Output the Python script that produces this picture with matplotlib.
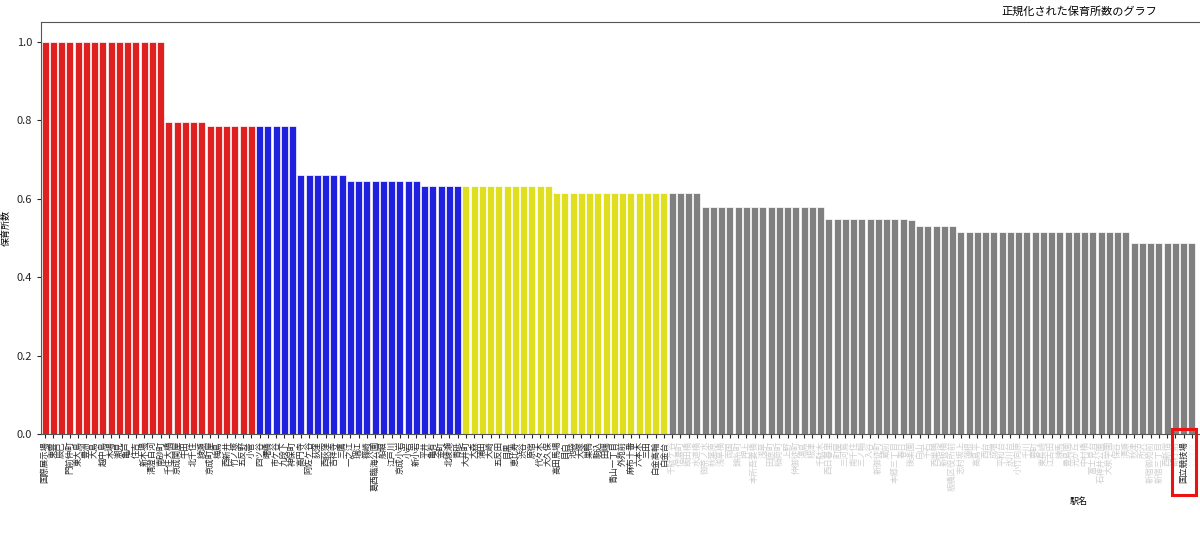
import matplotlib
matplotlib.use("Agg")
import matplotlib.pyplot as plt
from matplotlib.patches import Rectangle

plt.rcParams['font.family'] = ['Noto Sans CJK JP', 'DejaVu Sans']

# top group (red)
red_stations = ["国際展示場", "東雲", "辰巳", "門前仲町", "東大島", "豊洲", "大島", "越中島",
                "木場", "潮見", "亀戸", "住吉", "新木場", "清澄白河", "南砂町",
                "千住大橋", "京成関屋", "牛田", "北千住", "綾瀬",
                "京成町屋", "梅島", "西新井", "竹ノ塚", "五反野", "小菅"]
red_values = [1.0, 1.0, 1.0, 1.0, 1.0, 1.0, 1.0, 1.0, 1.0, 1.0, 1.0, 1.0, 1.0, 1.0, 1.0,
              0.795, 0.795, 0.795, 0.795, 0.795,
              0.784, 0.784, 0.784, 0.784, 0.784, 0.784]

# second group (blue)
blue_stations = ["四ツ谷", "曙橋", "市ケ谷", "九段下", "神保町",
                 "高円寺", "阿佐ケ谷", "荻窪", "西荻窪", "吉祥寺", "三鷹",
                 "一之江", "瑞江", "篠崎", "葛西臨海公園", "船堀", "江戸川", "京成小岩", "小岩", "新小岩",
                 "平井", "亀有", "金町", "北綾瀬", "青砥"]
blue_values = [0.784, 0.784, 0.784, 0.784, 0.784,
               0.661, 0.661, 0.661, 0.661, 0.661, 0.661,
               0.645, 0.645, 0.645, 0.645, 0.645, 0.645, 0.645, 0.645, 0.645,
               0.631, 0.631, 0.631, 0.631, 0.631]

# third group (yellow)
yellow_stations = ["大井町", "大森", "蒲田", "大崎", "五反田", "目黒", "恵比寿", "渋谷",
                   "原宿", "代々木", "大久保", "高田馬場", "目白", "池袋", "大塚", "巣鴨",
                   "駒込", "田端", "青山一丁目", "外苑前", "麻布十番", "六本木", "三田",
                   "白金高輪", "白金台"]
yellow_values = [0.631, 0.631, 0.631, 0.631, 0.631, 0.631, 0.631, 0.631, 0.631, 0.631, 0.631,
                 0.613, 0.613, 0.613, 0.613, 0.613, 0.613, 0.613, 0.613, 0.613, 0.613, 0.613,
                 0.613, 0.613, 0.613]

# the rest (gray); labels are blurred in the original except 国立競技場
gray_stations = ["千駄ケ谷", "信濃町", "飯田橋", "水道橋", "御茶ノ水", "秋葉原", "浅草橋", "両国",
                 "錦糸町", "押上", "本所吾妻橋", "浅草", "田原町", "稲荷町", "上野", "仲御徒町",
                 "湯島", "根津", "千駄木", "西日暮里", "町屋", "三河島", "南千住", "三ノ輪",
                 "入谷", "新御徒町", "蔵前", "本郷三丁目", "春日", "後楽園", "白山", "千石",
                 "西巣鴨", "新板橋", "板橋区役所前", "志村坂上", "蓮根", "高島平", "西台", "成増",
                 "平和台", "氷川台", "小竹向原", "千川", "要町", "東長崎", "江古田", "練馬",
                 "豊島園", "光が丘", "中村橋", "富士見台", "石神井公園", "大泉学園", "保谷", "清瀬",
                 "秋津", "所沢", "新宿御苑前", "新宿三丁目", "西新宿", "都庁前", "国立競技場",
                 "代々木"]
gray_values = [0.613, 0.613, 0.613, 0.613,
               0.578, 0.578, 0.578, 0.578, 0.578, 0.578, 0.578, 0.578, 0.578, 0.578,
               0.578, 0.578, 0.578, 0.578, 0.578,
               0.548, 0.548, 0.548, 0.548, 0.548, 0.548, 0.548, 0.548, 0.548, 0.548,
               0.545,
               0.530, 0.530, 0.530, 0.530, 0.530,
               0.515, 0.515, 0.515, 0.515, 0.515, 0.515, 0.515, 0.515, 0.515, 0.515,
               0.515, 0.515, 0.515, 0.515, 0.515, 0.515, 0.515, 0.515, 0.515, 0.515, 0.515,
               0.488, 0.488, 0.488, 0.488, 0.488, 0.488, 0.488, 0.488]
highlight = "国立競技場"

groups = [(red_stations, red_values, "#df2020"),
          (blue_stations, blue_values, "#2020df"),
          (yellow_stations, yellow_values, "#dfdf20"),
          (gray_stations, gray_values, "#808080")]

stations, values, colors = [], [], []
for names, vals, c in groups:
    assert len(names) == len(vals)
    stations += names
    values += vals
    colors += [c] * len(vals)

fig = plt.figure(figsize=(12, 5.36), dpi=100)
# the original picture is the left part of a wider chart
ax = fig.add_axes([41 / 1200, 102 / 536, 2076 / 1200, 412 / 536])

x = list(range(len(values)))
ax.bar(x, values, width=0.85, color=colors, edgecolor="white", linewidth=0.5)
ax.set_xlim(-0.5, -0.5 + 2076 / 8.25)
ax.set_ylim(0, 1.05)
ax.set_yticks([0.0, 0.2, 0.4, 0.6, 0.8, 1.0])
ax.set_xticks(x)
ax.set_xticklabels(stations, rotation=90, fontsize=6)
ax.tick_params(axis="y", labelsize=8, colors="#262626", length=3)
ax.tick_params(axis="x", length=3, pad=2, colors="#262626")

n_clear = len(red_stations) + len(blue_stations) + len(yellow_stations)
hi = n_clear + gray_stations.index(highlight)
labels = ax.get_xticklabels()
for i, lab in enumerate(labels):
    if i >= n_clear and i != hi:
        lab.set_color("#cfcfcf")
    if i > hi:
        lab.set_color("#f4f4f4")

for s in ax.spines.values():
    s.set_color("#555555")
    s.set_linewidth(0.8)

ax.set_title("正規化された保育所数のグラフ", fontsize=8, pad=5)
ax.set_xlabel("駅名", fontsize=6.5)
ax.set_ylabel("保育所数", fontsize=6.5)

# red box around the highlighted label
fig.canvas.draw()
bb = labels[hi].get_window_extent()
fig.patches.append(Rectangle((bb.x0 - 7, bb.y0 - 12), bb.width + 15, bb.height + 24,
                             transform=None, fill=False, edgecolor="#ee1111", linewidth=2.2))

fig.savefig("out.png", dpi=100)
